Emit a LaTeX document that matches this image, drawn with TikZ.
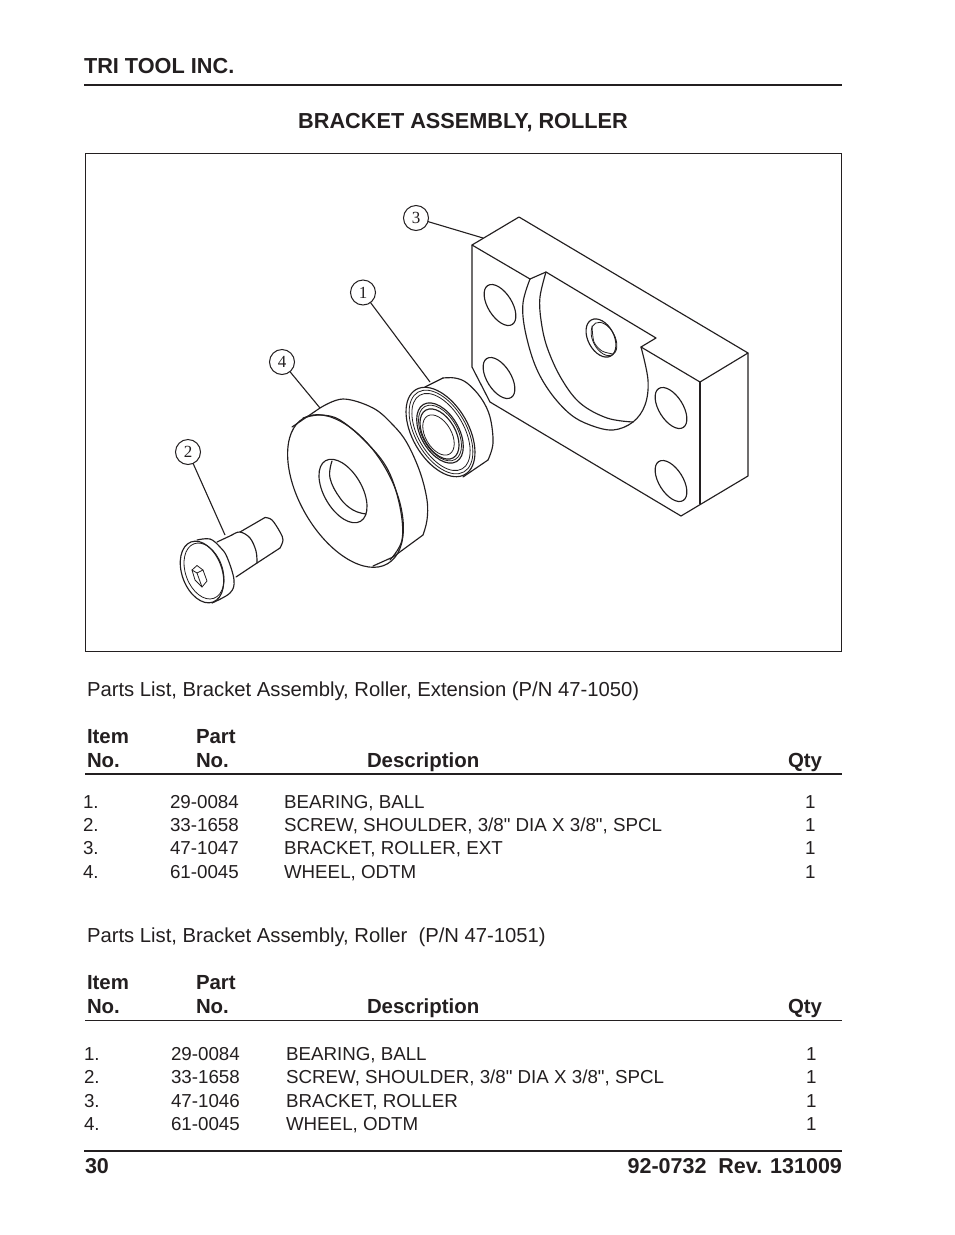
\documentclass[tikz,border=0pt]{standalone}
\usepackage{fontspec}
\setmainfont[Ligatures=TeXOff]{Liberation Sans}
\newfontfamily\calloutfont{Liberation Serif}
\definecolor{ink}{HTML}{231F20}
\tikzset{
  x=1pt,y=-1pt,
  every node/.style={inner sep=0pt,outer sep=0pt,text=ink},
  part/.style={draw=ink,line width=1.15pt,line join=round,line cap=round},
  fine/.style={draw=ink,line width=0.8pt,line join=round,line cap=round},
  rulethick/.style={draw=ink,line width=2pt},
  rulemid/.style={draw=ink,line width=1.4pt},
  rulethin/.style={draw=ink,line width=0.8pt},
  leader/.style={draw=ink,line width=1.1pt},
  callout/.style={circle,draw=ink,line width=1pt,minimum size=25pt,text=ink,font=\calloutfont\fontsize{17}{17}\selectfont},
  headtxt/.style={anchor=base west,font=\bfseries\fontsize{21.7}{21.7}\selectfont},
  boldtxt/.style={anchor=base west,font=\bfseries\fontsize{20.4}{20.4}\selectfont},
  foottxt/.style={anchor=base west,font=\bfseries\fontsize{21.5}{21.5}\selectfont},
  listtitle/.style={anchor=base west,font=\fontsize{20.25}{20.25}\selectfont},
  rowtxt/.style={anchor=base west,font=\fontsize{18.75}{18.75}\selectfont},
}
\newcommand{\partell}[6][part]{\draw[#1,shift={(#2,#3)},rotate=#6] (0,0) ellipse [x radius=#4pt,y radius=#5pt];}
\begin{document}
\begin{tikzpicture}
\useasboundingbox (0,0) rectangle (954,1235);
\fill[white] (0,0) rectangle (954,1235);

% header
\node[headtxt] (company) at (84,73) {TRI TOOL INC.};
\draw[rulethick] (84,85) -- (842,85);
\node[headtxt,anchor=base] (title) at (463,128) {BRACKET ASSEMBLY, ROLLER};
\draw[draw=ink,line width=1pt] (85,153.5) rectangle (841,651);

% bracket
\draw[part] (472,245) -- (519,217) -- (748,353) -- (748,476) -- (681,516) -- (490,402) -- (472,367) -- cycle;
\draw[part] (472,245) -- (530,279);
\draw[part] (530,279) -- (546,272) -- (656,338) -- (641,347) -- (700,382) -- (748,353);
\draw[part] (700,382) -- (700,504);
\draw[part] plot[smooth,tension=0.6] coordinates {(530,279) (523,303) (525,330) (535,365) (550,392) (570,414) (590,425) (613,430) (633,422) (645,405) (648,380) (641,347)};
\draw[part] plot[smooth,tension=0.6] coordinates {(546,272) (540,297) (541,320) (547,347) (561,378) (580,403) (607,418) (633,422)};
\partell{500}{305}{23}{12}{-58}
\partell{499}{378}{23}{12}{-58}
\partell{671}{408}{23}{12}{-58}
\partell{671}{481}{23}{12}{-58}
\partell{601}{338}{20.5}{13}{-62}
\partell[fine]{604}{339}{18}{11}{-62}
\draw[fine] plot[smooth] coordinates {(592,326) (594,342) (602,351) (613,354)};

% bearing
\draw[part] (425,387) -- (443,378);
\draw[part] plot[smooth,tension=0.6] coordinates {(443,378) (455,378) (467,383) (481,398) (490,417) (493,443) (488,460)};
\draw[part] (488,460) -- (463,477);
\partell{440.5}{432}{49}{28}{-60}
\partell[fine]{441}{432}{46}{25.5}{-60}
\partell[fine]{441}{432}{42.5}{23}{-60}
\partell{440}{433}{33}{19}{-60}
\partell[fine]{440}{433}{30.5}{17.5}{-60}
\partell{439.5}{434}{27.5}{16}{-60}
\partell[fine]{438.5}{435}{22}{13}{-60}

% wheel
\draw[part] (292,427) -- (320,408);
\draw[part] plot[smooth,tension=0.6] coordinates {(320,408) (343,399) (373,408) (393,425) (407,443) (420,472) (427,500) (427,520) (423,535)};
\draw[part] (423,535) -- (393,557) -- (373,566);
\partell{345.5}{491}{84}{46}{-60}
\draw[part] plot[smooth,tension=0.6] coordinates {(303,418) (320,415) (340,420) (367,443) (388,470) (400,507) (402,540) (390,560)};
\partell{343}{491}{35}{19}{-60}
\draw[part] plot[smooth,tension=0.7] coordinates {(332,461) (330,478) (340,498) (353,510) (366,514)};

% screw
\draw[part] (217,542) -- (232,535);
\draw[part] plot[smooth,tension=0.6] coordinates {(197,540) (210,539) (220,547) (227,557) (234,580) (230,593) (212,603)};
\draw[part] plot[smooth,tension=0.6] coordinates {(232,535) (240,532) (250,538) (256,551) (257,563)};
\draw[part] (257,563) -- (236,577);
\draw[part] (240,532) -- (265,517.5);
\draw[part] plot[smooth,tension=0.6] coordinates {(265,517.5) (272,520) (280,532) (283,540) (280,548)};
\draw[part] (280,548) -- (257,563);
\partell{202}{572}{32}{20}{-70}
\partell[fine]{204}{571}{29}{18.5}{-70}
\draw[fine] (192,570) -- (197,565.5) -- (203,570) -- (207,581) -- (202,587) -- (195,580) -- cycle;
\draw[fine] (192,570) -- (197,573) -- (202,587);
\draw[fine] (197,573) -- (203,570);

% callouts
\coordinate (end3) at (483,238);
\coordinate (end1) at (430,382);
\coordinate (end4) at (320,408);
\coordinate (end2) at (225,535);
\node[callout] (c3) at (416,218) {3};
\node[callout] (c1) at (363,292.5) {1};
\node[callout] (c4) at (282,362) {4};
\node[callout] (c2) at (188,452) {2};
\draw[leader] (c3) -- (end3);
\draw[leader] (c1) -- (end1);
\draw[leader] (c4) -- (end4);
\draw[leader] (c2) -- (end2);

% first list
\node[listtitle] (t1) at (87,696) {Parts List, Bracket Assembly, Roller, Extension (P/N 47-1050)};
\node[boldtxt] (h1a) at (87,743) {Item};
\node[boldtxt] (h1b) at (196,743) {Part};
\node[boldtxt] (h1c) at (87,767) {No.};
\node[boldtxt] (h1d) at (196,767) {No.};
\node[boldtxt] (h1e) at (367,767) {Description};
\node[boldtxt] (h1f) at (788,767) {Qty};
\draw[rulemid] (85,774) -- (842,774);
\node[rowtxt] at (83,808) {1.};
\node[rowtxt] at (170,808) {29-0084};
\node[rowtxt] at (284,808) {BEARING, BALL};
\node[rowtxt] at (805,808) {1};
\node[rowtxt] at (83,831) {2.};
\node[rowtxt] at (170,831) {33-1658};
\node[rowtxt] at (284,831) {SCREW, SHOULDER, 3/8" DIA X 3/8", SPCL};
\node[rowtxt] at (805,831) {1};
\node[rowtxt] at (83,854) {3.};
\node[rowtxt] at (170,854) {47-1047};
\node[rowtxt] at (284,854) {BRACKET, ROLLER, EXT};
\node[rowtxt] at (805,854) {1};
\node[rowtxt] at (83,878) {4.};
\node[rowtxt] at (170,878) {61-0045};
\node[rowtxt] at (284,878) {WHEEL, ODTM};
\node[rowtxt] at (805,878) {1};

% second list
\node[listtitle] (t2) at (87,942) {Parts List, Bracket Assembly, Roller\ \ (P/N 47-1051)};
\node[boldtxt] (h2a) at (87,989) {Item};
\node[boldtxt] (h2b) at (196,989) {Part};
\node[boldtxt] (h2c) at (87,1013) {No.};
\node[boldtxt] (h2d) at (196,1013) {No.};
\node[boldtxt] (h2e) at (367,1013) {Description};
\node[boldtxt] (h2f) at (788,1013) {Qty};
\draw[rulethin] (85,1020) -- (842,1020);
\node[rowtxt] at (84,1060) {1.};
\node[rowtxt] at (171,1060) {29-0084};
\node[rowtxt] at (286,1060) {BEARING, BALL};
\node[rowtxt] at (806,1060) {1};
\node[rowtxt] at (84,1083) {2.};
\node[rowtxt] at (171,1083) {33-1658};
\node[rowtxt] at (286,1083) {SCREW, SHOULDER, 3/8" DIA X 3/8", SPCL};
\node[rowtxt] at (806,1083) {1};
\node[rowtxt] at (84,1107) {3.};
\node[rowtxt] at (171,1107) {47-1046};
\node[rowtxt] at (286,1107) {BRACKET, ROLLER};
\node[rowtxt] at (806,1107) {1};
\node[rowtxt] at (84,1130) {4.};
\node[rowtxt] at (171,1130) {61-0045};
\node[rowtxt] at (286,1130) {WHEEL, ODTM};
\node[rowtxt] at (806,1130) {1};

% footer
\draw[rulethick] (84,1151) -- (842,1151);
\node[foottxt] (page) at (85,1173) {30};
\node[foottxt,anchor=base east] (rev) at (842,1173) {92-0732\ \ Rev. 131009};
\end{tikzpicture}
\end{document}
